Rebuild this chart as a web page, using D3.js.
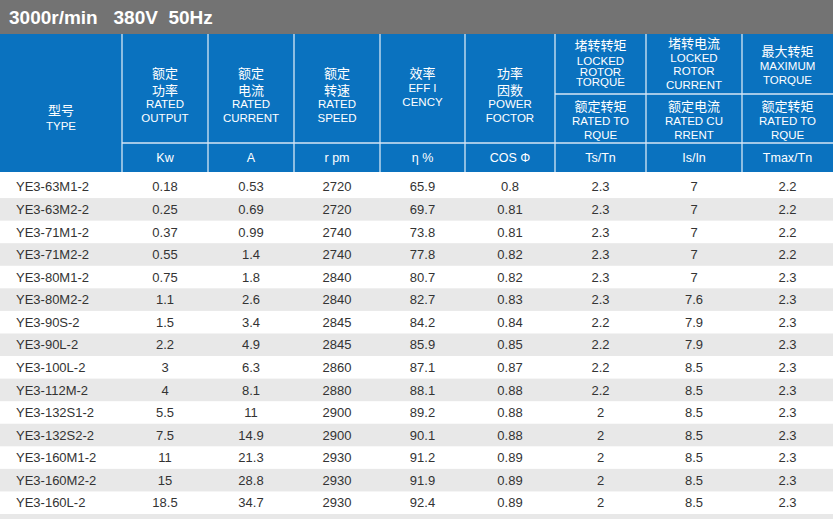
<!DOCTYPE html>
<html><head><meta charset="utf-8">
<script src="https://cdn.jsdelivr.net/npm/d3@7"></script>
<style>body{margin:0;background:#fff}svg{display:block}</style>
</head><body><svg id="c" width="833" height="519"></svg>
<script>
const title = "3000r/min   380V  50Hz";
const types = ["YE3-63M1-2","YE3-63M2-2","YE3-71M1-2","YE3-71M2-2","YE3-80M1-2","YE3-80M2-2","YE3-90S-2","YE3-90L-2","YE3-100L-2","YE3-112M-2","YE3-132S1-2","YE3-132S2-2","YE3-160M1-2","YE3-160M2-2","YE3-160L-2"];
const output = ["0.18","0.25","0.37","0.55","0.75","1.1","1.5","2.2","3","4","5.5","7.5","11","15","18.5"];
const current = ["0.53","0.69","0.99","1.4","1.8","2.6","3.4","4.9","6.3","8.1","11","14.9","21.3","28.8","34.7"];
const speed = ["2720","2720","2740","2740","2840","2840","2845","2845","2860","2880","2900","2900","2930","2930","2930"];
const eff = ["65.9","69.7","73.8","77.8","80.7","82.7","84.2","85.9","87.1","88.1","89.2","90.1","91.2","91.9","92.4"];
const pf = ["0.8","0.81","0.81","0.82","0.82","0.83","0.84","0.85","0.87","0.88","0.88","0.88","0.89","0.89","0.89"];
const tsTn = ["2.3","2.3","2.3","2.3","2.3","2.3","2.2","2.2","2.2","2.2","2","2","2","2","2"];
const isIn = ["7","7","7","7","7","7.6","7.9","7.9","8.5","8.5","8.5","8.5","8.5","8.5","8.5"];
const tmaxTn = ["2.2","2.2","2.2","2.2","2.3","2.3","2.3","2.3","2.3","2.3","2.3","2.3","2.3","2.3","2.3"];
const units = ["Kw","A","r pm","η  %","COS Φ","Ts/Tn","Is/In","Tmax/Tn"];
const headTop = [
  ["额定","功率","RATED","OUTPUT"],["额定","电流","RATED","CURRENT"],["额定","转速","RATED","SPEED"],
  ["效率","EFF I","CENCY"],["功率","因数","POWER","FOCTOR"]];
const headSplitA = [["堵转转矩","LOCKED","ROTOR","TORQUE"],["堵转电流","LOCKED","ROTOR","CURRENT"],["最大转矩","MAXIMUM","TORQUE"]];
const headSplitB = [["额定转矩","RATED TO","RQUE"],["额定电流","RATED CU","RRENT"],["额定转矩","RATED TO","RQUE"]];
const cols = [types,output,current,speed,eff,pf,tsTn,isIn,tmaxTn];
const edges = [0,122,208,294,380,465,555,646,742,833];

const svg = d3.select("#c");
const font = "'Liberation Sans','Noto Sans CJK SC',sans-serif";
const blue = "#0a72bf";
svg.append("rect").attr("width",833).attr("height",34).attr("fill","#737373");
svg.append("text").text(title).attr("x",9).attr("y",24).attr("fill","#fff")
  .attr("font-family",font).attr("font-weight","bold").attr("font-size",19).style("white-space","pre");
svg.append("rect").attr("y",34).attr("width",833).attr("height",138).attr("fill",blue);

const y = d3.scaleBand().domain(d3.range(types.length)).range([175.5,514]);
const cx = i => (edges[i]+edges[i+1])/2;
svg.selectAll("rect.s").data(d3.range(types.length).filter(i=>i%2==1).concat([15])).join("rect")
  .attr("x",0).attr("width",833).attr("y",i=>i<15?y(i):514).attr("height",i=>i<15?y.bandwidth():5).attr("fill","#e8e8e8");
const ln = (x1,y1,x2,y2)=>svg.append("line").attr("x1",x1).attr("y1",y1).attr("x2",x2).attr("y2",y2).attr("stroke","#d6e6f4").attr("stroke-width",1.3);
edges.slice(1,-1).forEach(x=>ln(x,34,x,172));
ln(122,143,833,143); ln(555,94,833,94);
// each line: [text, y]
function put(arr,x,ys){
  arr.forEach((t,k)=>{
    const cjk=!/[A-Za-z]/.test(t);
    svg.append("text").text(t).attr("x",x).attr("y",ys[k]).attr("dy","0.36em")
      .attr("text-anchor","middle").attr("fill","#fff").attr("font-family",font).attr("font-size",cjk?13:11.5);
  });
}
put(["型号","TYPE"],cx(0),[110,126]);
headTop.forEach((a,i)=>put(a,cx(i+1),a.length==4?[73,90,104,118]:[73,88,102]));
put(headSplitA[0],cx(6),[45,61,72,82]);
put(headSplitA[1],cx(7),[43,58,71,85]);
put(headSplitA[2],cx(8),[51,66,80]);
headSplitB.forEach((a,i)=>put(a,cx(i+6),[106,121,135]));
units.forEach((u,i)=>svg.append("text").text(u).attr("x",cx(i+1)).attr("y",157).attr("dy","0.36em")
  .attr("text-anchor","middle").attr("fill","#fff").attr("font-family",font).attr("font-size",12.5));
cols.forEach((col,c)=>{
  svg.selectAll(null).data(col).join("text").text(d=>d)
    .attr("x",c==0?16:cx(c)).attr("text-anchor",c==0?"start":"middle")
    .attr("y",(d,i)=>y(i)+y.bandwidth()/2).attr("dy","0.36em")
    .attr("fill","#333").attr("font-family",font).attr("font-size",13);
});
</script></body></html>
